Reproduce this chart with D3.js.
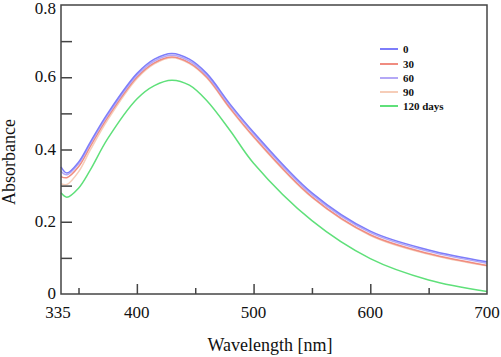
<!DOCTYPE html>
<html lang="en">
<head>
<meta charset="UTF-8">
<title>Absorbance</title>
<script src="https://d3js.org/d3.v7.min.js"></script>
<style>
    body { margin: 0; background: #fff; }
    .tick-label { font-family: "Times New Roman", "Liberation Serif", "DejaVu Serif", serif; font-size: 17px; fill: #111; }
    .axis-title { font-family: "Times New Roman", "Liberation Serif", "DejaVu Serif", serif; font-size: 18px; fill: #111; }
    .legend-text { font-family: "Times New Roman", "Liberation Serif", serif; font-size: 11px; font-weight: bold; fill: #111; }
</style>
</head>
<body>
<div id="chart"></div>
<script>
// wavelengths (nm) and absorbance for each storage time
var wavelengths = [335, 340, 350, 360, 375, 400, 415, 430, 445, 460, 480, 500, 550, 600, 650, 700];
var days0   = [0.352, 0.335, 0.365, 0.420, 0.500, 0.610, 0.650, 0.666, 0.650, 0.610, 0.525, 0.448, 0.280, 0.174, 0.122, 0.089];
var days30  = [0.325, 0.322, 0.352, 0.408, 0.489, 0.600, 0.640, 0.656, 0.640, 0.600, 0.514, 0.436, 0.269, 0.164, 0.112, 0.079];
var days60  = [0.340, 0.330, 0.360, 0.415, 0.495, 0.605, 0.645, 0.661, 0.645, 0.605, 0.520, 0.443, 0.275, 0.170, 0.118, 0.085];
var days90  = [0.305, 0.303, 0.338, 0.398, 0.482, 0.596, 0.637, 0.654, 0.638, 0.598, 0.512, 0.434, 0.267, 0.162, 0.110, 0.078];
var days120 = [0.280, 0.268, 0.293, 0.343, 0.430, 0.540, 0.577, 0.592, 0.578, 0.535, 0.452, 0.362, 0.203, 0.098, 0.039, 0.007];

var seriesNames = ["0", "30", "60", "90", "120 days"];
var seriesColors = ["#7d7dfa", "#f08c80", "#b4a8f6", "#f6cdb8", "#5fe07a"];
var xTicksMajor = [335, 400, 500, 600, 700];
var xTicksMinor = [350, 450, 550, 650];
var yTicksMajor = [0, 0.2, 0.4, 0.6, 0.8];
var yTicksMinor = [0.1, 0.3, 0.5, 0.7];

var width = 501, height = 357;
var margin = { top: 5, right: 14, bottom: 63, left: 61 };

var x = d3.scaleLinear().domain([335, 700]).range([margin.left, width - margin.right]);
var y = d3.scaleLinear().domain([0, 0.8]).range([height - margin.bottom, margin.top]);

var svg = d3.select("#chart").append("svg")
    .attr("width", width).attr("height", height);

var allSeries = [days0, days30, days60, days90, days120];
var line = d3.line()
    .x(function (d) { return x(d[0]); })
    .y(function (d) { return y(d[1]); })
    .curve(d3.curveCatmullRom.alpha(0.5));

// curves, drawn so that 120 days is under, 0 on top
var order = [4, 3, 1, 2, 0];
order.forEach(function (i) {
    var pts = wavelengths.map(function (w, k) { return [w, allSeries[i][k]]; });
    svg.append("path")
        .attr("d", line(pts))
        .attr("fill", "none")
        .attr("stroke", seriesColors[i])
        .attr("stroke-width", 1.5);
});

// frame
svg.append("rect")
    .attr("x", x(335)).attr("y", y(0.8))
    .attr("width", x(700) - x(335)).attr("height", y(0) - y(0.8))
    .attr("fill", "none").attr("stroke", "#444").attr("stroke-width", 1.5);

// inward ticks on x axis
var xAxis = d3.axisTop(x).tickValues(xTicksMajor.slice(1, 4)).tickSize(10).tickFormat("");
svg.append("g").attr("transform", "translate(0," + y(0) + ")").call(xAxis)
    .call(function (g) { g.select(".domain").remove(); })
    .selectAll("line").attr("stroke", "#444").attr("stroke-width", 1.5);
var xAxisMinor = d3.axisTop(x).tickValues(xTicksMinor).tickSize(6).tickFormat("");
svg.append("g").attr("transform", "translate(0," + y(0) + ")").call(xAxisMinor)
    .call(function (g) { g.select(".domain").remove(); })
    .selectAll("line").attr("stroke", "#444").attr("stroke-width", 1.5);

// inward ticks on y axis
var yAxis = d3.axisRight(y).tickValues(yTicksMajor.slice(1, 4).concat(yTicksMinor)).tickSize(11).tickFormat("");
svg.append("g").attr("transform", "translate(" + x(335) + ",0)").call(yAxis)
    .call(function (g) { g.select(".domain").remove(); })
    .selectAll("line").attr("stroke", "#444").attr("stroke-width", 1.5);

// tick labels
svg.selectAll(".xlab").data(xTicksMajor).enter().append("text")
    .attr("class", "tick-label")
    .attr("x", function (d) { return d === 335 ? x(d) - 3 : x(d); })
    .attr("y", y(0) + 24)
    .attr("text-anchor", "middle")
    .text(function (d) { return d; });

svg.selectAll(".ylab").data(yTicksMajor).enter().append("text")
    .attr("class", "tick-label")
    .attr("x", x(335) - 5)
    .attr("y", function (d) { return Math.max(y(d) + 5, 14); })
    .attr("text-anchor", "end")
    .text(function (d) { return d === 0 ? "0" : d.toFixed(1); });

// axis titles
svg.append("text").attr("class", "axis-title")
    .attr("x", 270).attr("y", 351)
    .attr("text-anchor", "middle")
    .text("Wavelength [nm]");

svg.append("text").attr("class", "axis-title")
    .attr("transform", "translate(15,162) rotate(-90)")
    .attr("text-anchor", "middle")
    .text("Absorbance");

// legend
var legend = svg.append("g").attr("transform", "translate(380,49)");
seriesNames.forEach(function (name, i) {
    var yy = [0, 15, 29, 43, 57][i];
    legend.append("line")
        .attr("x1", 0).attr("x2", 18).attr("y1", yy).attr("y2", yy)
        .attr("stroke", seriesColors[i]).attr("stroke-width", 2);
    legend.append("text").attr("class", "legend-text")
        .attr("x", 23).attr("y", yy + 4)
        .text(name);
});
</script>
</body>
</html>
